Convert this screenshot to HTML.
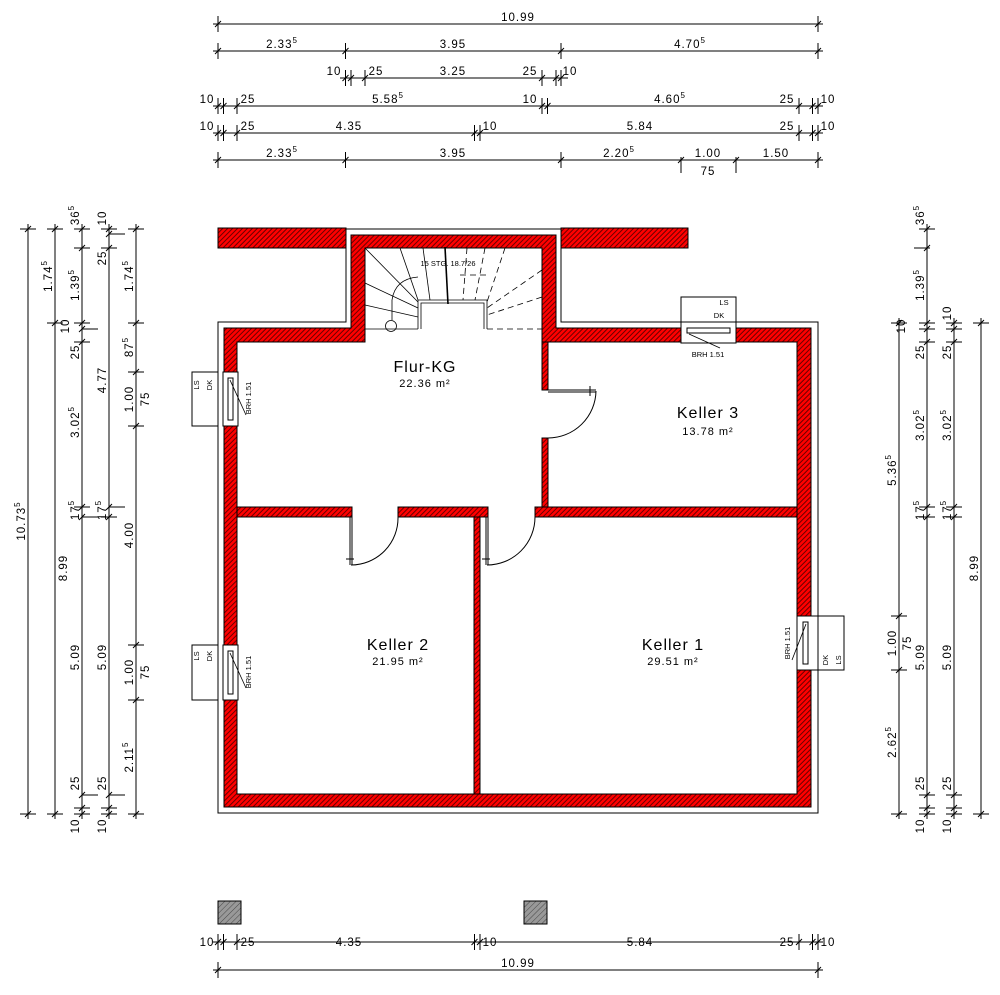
<!DOCTYPE html>
<html><head><meta charset="utf-8"><style>
html,body{margin:0;padding:0;background:#fff}
svg{display:block}
text{font-family:"Liberation Sans",sans-serif;fill:#000}
.d{font-size:11.5px;letter-spacing:1px}
.s{font-size:7.5px}
</style></head><body>
<svg width="1000" height="995" viewBox="0 0 1000 995" xmlns="http://www.w3.org/2000/svg">
<defs>
<pattern id="h" width="3.5" height="3.5" patternUnits="userSpaceOnUse" patternTransform="rotate(45)">
<rect width="3.5" height="3.5" fill="#f00"/><line x1="0.5" y1="0" x2="0.5" y2="3.5" stroke="#6a0000" stroke-width="1"/>
</pattern>
<pattern id="g" width="4" height="4" patternUnits="userSpaceOnUse" patternTransform="rotate(45)">
<rect width="4" height="4" fill="#999"/><line x1="0" y1="0" x2="0" y2="4" stroke="#333" stroke-width="0.8"/>
</pattern>
<line id="t" x1="-3" y1="3" x2="3" y2="-3" stroke="#000" stroke-width="1"/>
<line id="ev" x1="0" y1="-8" x2="0" y2="8" stroke="#000" stroke-width="1"/>
<line id="eh" x1="-8" y1="0" x2="8" y2="0" stroke="#000" stroke-width="1"/>
</defs>

<g stroke="#000" stroke-width="1" fill="none">
<path d="M218,322 H346 V229 H561 V322 H818 V813 H218 Z" fill="#fff"/>
</g>
<rect x="218" y="228" width="128" height="20" fill="url(#h)" stroke="#000"/>
<rect x="561" y="228" width="127" height="20" fill="url(#h)" stroke="#000"/>
<path d="M224,328 H351 V235 H556 V328 H811 V807 H224 Z M237,342 H365 V248 H542 V342 H797 V794 H237 Z" fill="url(#h)" fill-rule="evenodd" stroke="#000"/>
<g fill="url(#h)" stroke="#000">
<rect x="237" y="507" width="115" height="10"/>
<rect x="398" y="507" width="90" height="10"/>
<rect x="535" y="507" width="262" height="10"/>
<rect x="474" y="517" width="6" height="277"/>
<rect x="542" y="342" width="6" height="48"/>
<rect x="542" y="438" width="6" height="69"/>
</g>
<g fill="#fff" stroke="#000">
<rect x="223" y="372" width="15" height="54"/><rect x="228" y="378" width="5" height="42"/>
<rect x="223" y="645" width="15" height="55"/><rect x="228" y="651" width="5" height="43"/>
<rect x="681" y="322" width="55" height="21"/><rect x="687" y="328" width="43" height="5"/>
<rect x="797" y="616" width="21" height="54"/><rect x="803" y="622" width="5" height="42"/>
<rect x="192" y="372" width="26" height="54"/>
<rect x="192" y="645" width="26" height="55"/>
<rect x="681" y="297" width="55" height="25"/>
<rect x="818" y="616" width="26" height="54"/>
</g>
<g stroke="#000" stroke-width="0.8">
<line x1="230" y1="380" x2="246" y2="415"/><line x1="230" y1="653" x2="246" y2="688"/>
<line x1="689" y1="334" x2="720" y2="348"/><line x1="806" y1="624" x2="792" y2="660"/>
</g>
<g class="s">
<text transform="translate(251,398) rotate(-90)" text-anchor="middle">BRH 1.51</text>
<text transform="translate(251,672) rotate(-90)" text-anchor="middle">BRH 1.51</text>
<text transform="translate(790,643) rotate(-90)" text-anchor="middle">BRH 1.51</text>
<text x="708" y="357" text-anchor="middle">BRH 1.51</text>
<text transform="translate(199,385) rotate(-90)" text-anchor="middle">LS</text>
<text transform="translate(212,385) rotate(-90)" text-anchor="middle">DK</text>
<text transform="translate(199,656) rotate(-90)" text-anchor="middle">LS</text>
<text transform="translate(212,656) rotate(-90)" text-anchor="middle">DK</text>
<text transform="translate(828,660) rotate(-90)" text-anchor="middle">DK</text>
<text transform="translate(841,660) rotate(-90)" text-anchor="middle">LS</text>
<text x="724" y="305" text-anchor="middle">LS</text>
<text x="719" y="318" text-anchor="middle">DK</text>
</g>
<g stroke="#000" fill="none" stroke-width="1">
<line x1="548" y1="390" x2="596" y2="390"/><line x1="548" y1="392" x2="596" y2="392"/>
<path d="M596,391 A48,48 0 0 1 548,438"/>
<line x1="350" y1="517" x2="350" y2="565"/><line x1="352" y1="517" x2="352" y2="565"/>
<path d="M351,565 A47,47 0 0 0 398,517"/>
<line x1="486" y1="517" x2="486" y2="565"/><line x1="488" y1="517" x2="488" y2="565"/>
<path d="M487,565 A48,48 0 0 0 535,517"/>
<path d="M590,386 v10 M346,559 h8 M482,559 h8"/>
</g>
<g stroke="#000" fill="none" stroke-width="0.8">
<path d="M418,329 V300 H487 V329 M421,329 V303 H484 V329"/>
<line x1="365" y1="248" x2="418" y2="302"/>
<line x1="365" y1="283" x2="418" y2="308"/>
<line x1="365" y1="305" x2="418" y2="317"/>
<line x1="400" y1="248" x2="418" y2="300"/>
<line x1="423" y1="248" x2="430" y2="300"/>
<line x1="445" y1="247" x2="448" y2="304" stroke-width="1.6"/>
<line x1="365" y1="329" x2="418" y2="329"/>
<path d="M392,320 V300 Q395,279 418,277"/>
<circle cx="391" cy="326" r="5.5"/>
<g stroke-dasharray="6,4">
<line x1="467" y1="248" x2="463" y2="300"/>
<line x1="485" y1="248" x2="475" y2="300"/>
<line x1="505" y1="248" x2="487" y2="302"/>
<line x1="542" y1="270" x2="487" y2="308"/>
<line x1="542" y1="297" x2="487" y2="315"/>
<line x1="487" y1="329" x2="542" y2="329"/>
<line x1="460" y1="275" x2="488" y2="275"/>
</g>
</g>
<text class="s" x="448" y="266" text-anchor="middle">15 STG. 18.7/26</text>
<text x="425" y="372" text-anchor="middle" font-size="16" letter-spacing="1">Flur-KG</text>
<text x="425" y="387" text-anchor="middle" font-size="11" letter-spacing="1">22.36 m²</text>
<text x="708" y="418" text-anchor="middle" font-size="16" letter-spacing="1">Keller 3</text>
<text x="708" y="435" text-anchor="middle" font-size="11" letter-spacing="1">13.78 m²</text>
<text x="398" y="650" text-anchor="middle" font-size="16" letter-spacing="1">Keller 2</text>
<text x="398" y="665" text-anchor="middle" font-size="11" letter-spacing="1">21.95 m²</text>
<text x="673" y="650" text-anchor="middle" font-size="16" letter-spacing="1">Keller 1</text>
<text x="673" y="665" text-anchor="middle" font-size="11" letter-spacing="1">29.51 m²</text>
<rect x="218" y="901" width="23" height="23" fill="url(#g)" stroke="#000"/>
<rect x="524" y="901" width="23" height="23" fill="url(#g)" stroke="#000"/>

<g stroke="#000" stroke-width="1">
<line x1="213" y1="24" x2="823" y2="24"/>
<line x1="213" y1="51" x2="823" y2="51"/>
<line x1="340" y1="78" x2="568" y2="78"/>
<line x1="213" y1="106" x2="823" y2="106"/>
<line x1="213" y1="133" x2="823" y2="133"/>
<line x1="213" y1="160" x2="823" y2="160"/>
<line x1="213" y1="942" x2="823" y2="942"/>
<line x1="213" y1="970" x2="823" y2="970"/>
</g>
<g>
<use href="#ev" x="218" y="24"/><use href="#ev" x="818" y="24"/><use href="#t" x="218" y="24"/><use href="#t" x="818" y="24"/>
<use href="#ev" x="218" y="51"/><use href="#ev" x="345.5" y="51"/><use href="#ev" x="561" y="51"/><use href="#ev" x="818" y="51"/>
<use href="#t" x="218" y="51"/><use href="#t" x="345.5" y="51"/><use href="#t" x="561" y="51"/><use href="#t" x="818" y="51"/>
<use href="#ev" x="345.5" y="78"/><use href="#ev" x="351" y="78"/><use href="#ev" x="365" y="78"/><use href="#ev" x="542" y="78"/><use href="#ev" x="556" y="78"/><use href="#ev" x="561" y="78"/>
<use href="#t" x="345.5" y="78"/><use href="#t" x="351" y="78"/><use href="#t" x="365" y="78"/><use href="#t" x="542" y="78"/><use href="#t" x="556" y="78"/><use href="#t" x="561" y="78"/>
<use href="#ev" x="218" y="106"/><use href="#ev" x="223.5" y="106"/><use href="#ev" x="237" y="106"/><use href="#ev" x="542" y="106"/><use href="#ev" x="547.5" y="106"/><use href="#ev" x="799" y="106"/><use href="#ev" x="812.5" y="106"/><use href="#ev" x="818" y="106"/>
<use href="#t" x="218" y="106"/><use href="#t" x="223.5" y="106"/><use href="#t" x="237" y="106"/><use href="#t" x="542" y="106"/><use href="#t" x="547.5" y="106"/><use href="#t" x="799" y="106"/><use href="#t" x="812.5" y="106"/><use href="#t" x="818" y="106"/>
<use href="#ev" x="218" y="133"/><use href="#ev" x="223.5" y="133"/><use href="#ev" x="237" y="133"/><use href="#ev" x="474.5" y="133"/><use href="#ev" x="480" y="133"/><use href="#ev" x="799" y="133"/><use href="#ev" x="812.5" y="133"/><use href="#ev" x="818" y="133"/>
<use href="#t" x="218" y="133"/><use href="#t" x="223.5" y="133"/><use href="#t" x="237" y="133"/><use href="#t" x="474.5" y="133"/><use href="#t" x="480" y="133"/><use href="#t" x="799" y="133"/><use href="#t" x="812.5" y="133"/><use href="#t" x="818" y="133"/>
<use href="#ev" x="218" y="160"/><use href="#ev" x="345.5" y="160"/><use href="#ev" x="561" y="160"/><use href="#ev" x="681" y="165"/><use href="#ev" x="736" y="165"/><use href="#ev" x="818" y="160"/>
<use href="#t" x="218" y="160"/><use href="#t" x="345.5" y="160"/><use href="#t" x="561" y="160"/><use href="#t" x="681" y="160"/><use href="#t" x="736" y="160"/><use href="#t" x="818" y="160"/>
<use href="#ev" x="218" y="942"/><use href="#ev" x="223.5" y="942"/><use href="#ev" x="237" y="942"/><use href="#ev" x="474.5" y="942"/><use href="#ev" x="480" y="942"/><use href="#ev" x="799" y="942"/><use href="#ev" x="812.5" y="942"/><use href="#ev" x="818" y="942"/>
<use href="#t" x="218" y="942"/><use href="#t" x="223.5" y="942"/><use href="#t" x="237" y="942"/><use href="#t" x="474.5" y="942"/><use href="#t" x="480" y="942"/><use href="#t" x="799" y="942"/><use href="#t" x="812.5" y="942"/><use href="#t" x="818" y="942"/>
<use href="#ev" x="218" y="970"/><use href="#ev" x="818" y="970"/><use href="#t" x="218" y="970"/><use href="#t" x="818" y="970"/>
</g>
<g class="d" text-anchor="middle">
<text x="518" y="21">10.99</text>
<text x="282" y="48">2.33<tspan dy="-5" font-size="8">5</tspan></text>
<text x="453" y="48">3.95</text>
<text x="690" y="48">4.70<tspan dy="-5" font-size="8">5</tspan></text>
<text x="334" y="75">10</text><text x="376" y="75">25</text><text x="453" y="75">3.25</text><text x="530" y="75">25</text><text x="570" y="75">10</text>
<text x="207" y="103">10</text><text x="248" y="103">25</text><text x="388" y="103">5.58<tspan dy="-5" font-size="8">5</tspan></text><text x="530" y="103">10</text><text x="670" y="103">4.60<tspan dy="-5" font-size="8">5</tspan></text><text x="787" y="103">25</text><text x="828" y="103">10</text>
<text x="207" y="130">10</text><text x="248" y="130">25</text><text x="349" y="130">4.35</text><text x="490" y="130">10</text><text x="640" y="130">5.84</text><text x="787" y="130">25</text><text x="828" y="130">10</text>
<text x="282" y="157">2.33<tspan dy="-5" font-size="8">5</tspan></text><text x="453" y="157">3.95</text><text x="619" y="157">2.20<tspan dy="-5" font-size="8">5</tspan></text><text x="708" y="157">1.00</text><text x="776" y="157">1.50</text>
<text x="708" y="175">75</text>
<text x="207" y="946">10</text><text x="248" y="946">25</text><text x="349" y="946">4.35</text><text x="490" y="946">10</text><text x="640" y="946">5.84</text><text x="787" y="946">25</text><text x="828" y="946">10</text>
<text x="518" y="967">10.99</text>
</g>

<g stroke="#000" stroke-width="1">
<line x1="28" y1="224" x2="28" y2="819"/>
<line x1="55" y1="224" x2="55" y2="819"/>
<line x1="82" y1="224" x2="82" y2="819"/>
<line x1="109" y1="224" x2="109" y2="819"/>
<line x1="136" y1="224" x2="136" y2="819"/>
<line x1="899" y1="318" x2="899" y2="819"/>
<line x1="927" y1="224" x2="927" y2="819"/>
<line x1="954" y1="318" x2="954" y2="819"/>
<line x1="981" y1="318" x2="981" y2="819"/>
</g>
<g>
<use href="#eh" x="28" y="229"/><use href="#eh" x="28" y="814"/><use href="#t" x="28" y="229"/><use href="#t" x="28" y="814"/>
<use href="#eh" x="55" y="229"/><use href="#eh" x="55" y="323"/><use href="#eh" x="55" y="814"/><use href="#t" x="55" y="229"/><use href="#t" x="55" y="323"/><use href="#t" x="55" y="814"/>
<use href="#eh" x="82" y="229"/><use href="#eh" x="82" y="248"/><use href="#eh" x="82" y="323"/><use href="#eh" x="90" y="329"/><use href="#eh" x="82" y="342"/><use href="#eh" x="82" y="507"/><use href="#eh" x="90" y="517"/><use href="#eh" x="90" y="795"/><use href="#eh" x="82" y="808"/><use href="#eh" x="82" y="814"/>
<use href="#t" x="82" y="229"/><use href="#t" x="82" y="248"/><use href="#t" x="82" y="323"/><use href="#t" x="82" y="329"/><use href="#t" x="82" y="342"/><use href="#t" x="82" y="507"/><use href="#t" x="82" y="517"/><use href="#t" x="82" y="795"/><use href="#t" x="82" y="808"/><use href="#t" x="82" y="814"/>
<use href="#eh" x="109" y="229"/><use href="#eh" x="117" y="234"/><use href="#eh" x="109" y="248"/><use href="#eh" x="117" y="507"/><use href="#eh" x="109" y="517"/><use href="#eh" x="117" y="795"/><use href="#eh" x="109" y="808"/><use href="#eh" x="109" y="814"/>
<use href="#t" x="109" y="229"/><use href="#t" x="109" y="234"/><use href="#t" x="109" y="248"/><use href="#t" x="109" y="507"/><use href="#t" x="109" y="517"/><use href="#t" x="109" y="795"/><use href="#t" x="109" y="808"/><use href="#t" x="109" y="814"/>
<use href="#eh" x="136" y="229"/><use href="#eh" x="136" y="323"/><use href="#eh" x="136" y="372"/><use href="#eh" x="136" y="426"/><use href="#eh" x="136" y="645"/><use href="#eh" x="136" y="700"/><use href="#eh" x="136" y="814"/>
<use href="#t" x="136" y="229"/><use href="#t" x="136" y="323"/><use href="#t" x="136" y="372"/><use href="#t" x="136" y="426"/><use href="#t" x="136" y="645"/><use href="#t" x="136" y="700"/><use href="#t" x="136" y="814"/>
<use href="#eh" x="899" y="323"/><use href="#eh" x="899" y="616"/><use href="#eh" x="899" y="670"/><use href="#eh" x="899" y="814"/>
<use href="#t" x="899" y="323"/><use href="#t" x="899" y="616"/><use href="#t" x="899" y="670"/><use href="#t" x="899" y="814"/>
<use href="#eh" x="927" y="229"/><use href="#eh" x="922" y="248"/><use href="#eh" x="927" y="323"/><use href="#eh" x="927" y="329"/><use href="#eh" x="927" y="342"/><use href="#eh" x="927" y="507"/><use href="#eh" x="927" y="517"/><use href="#eh" x="927" y="795"/><use href="#eh" x="927" y="808"/><use href="#eh" x="927" y="814"/>
<use href="#t" x="927" y="229"/><use href="#t" x="927" y="248"/><use href="#t" x="927" y="323"/><use href="#t" x="927" y="329"/><use href="#t" x="927" y="342"/><use href="#t" x="927" y="507"/><use href="#t" x="927" y="517"/><use href="#t" x="927" y="795"/><use href="#t" x="927" y="808"/><use href="#t" x="927" y="814"/>
<use href="#eh" x="954" y="323"/><use href="#eh" x="954" y="329"/><use href="#eh" x="954" y="342"/><use href="#eh" x="954" y="507"/><use href="#eh" x="954" y="517"/><use href="#eh" x="954" y="795"/><use href="#eh" x="954" y="808"/><use href="#eh" x="954" y="814"/>
<use href="#t" x="954" y="323"/><use href="#t" x="954" y="329"/><use href="#t" x="954" y="342"/><use href="#t" x="954" y="507"/><use href="#t" x="954" y="517"/><use href="#t" x="954" y="795"/><use href="#t" x="954" y="808"/><use href="#t" x="954" y="814"/>
<use href="#eh" x="981" y="323"/><use href="#eh" x="981" y="814"/><use href="#t" x="981" y="323"/><use href="#t" x="981" y="814"/>
</g>
<g class="d" text-anchor="middle">
<text transform="translate(25,521) rotate(-90)">10.73<tspan dy="-5" font-size="8">5</tspan></text>
<text transform="translate(52,276) rotate(-90)">1.74<tspan dy="-5" font-size="8">5</tspan></text>
<text transform="translate(67,568) rotate(-90)">8.99</text>
<text transform="translate(79,215) rotate(-90)">36<tspan dy="-5" font-size="8">5</tspan></text>
<text transform="translate(79,285) rotate(-90)">1.39<tspan dy="-5" font-size="8">5</tspan></text>
<text transform="translate(69,326) rotate(-90)">10</text>
<text transform="translate(79,352) rotate(-90)">25</text>
<text transform="translate(79,422) rotate(-90)">3.02<tspan dy="-5" font-size="8">5</tspan></text>
<text transform="translate(79,510) rotate(-90)">17<tspan dy="-5" font-size="8">5</tspan></text>
<text transform="translate(79,657) rotate(-90)">5.09</text>
<text transform="translate(79,783) rotate(-90)">25</text>
<text transform="translate(79,826) rotate(-90)">10</text>
<text transform="translate(106,218) rotate(-90)">10</text>
<text transform="translate(106,258) rotate(-90)">25</text>
<text transform="translate(106,380) rotate(-90)">4.77</text>
<text transform="translate(106,510) rotate(-90)">17<tspan dy="-5" font-size="8">5</tspan></text>
<text transform="translate(106,657) rotate(-90)">5.09</text>
<text transform="translate(106,783) rotate(-90)">25</text>
<text transform="translate(106,826) rotate(-90)">10</text>
<text transform="translate(133,276) rotate(-90)">1.74<tspan dy="-5" font-size="8">5</tspan></text>
<text transform="translate(133,347) rotate(-90)">87<tspan dy="-5" font-size="8">5</tspan></text>
<text transform="translate(133,399) rotate(-90)">1.00</text>
<text transform="translate(149,399) rotate(-90)">75</text>
<text transform="translate(133,535) rotate(-90)">4.00</text>
<text transform="translate(133,672) rotate(-90)">1.00</text>
<text transform="translate(149,672) rotate(-90)">75</text>
<text transform="translate(133,757) rotate(-90)">2.11<tspan dy="-5" font-size="8">5</tspan></text>
<text transform="translate(896,470) rotate(-90)">5.36<tspan dy="-5" font-size="8">5</tspan></text>
<text transform="translate(896,643) rotate(-90)">1.00</text>
<text transform="translate(911,643) rotate(-90)">75</text>
<text transform="translate(896,742) rotate(-90)">2.62<tspan dy="-5" font-size="8">5</tspan></text>
<text transform="translate(924,215) rotate(-90)">36<tspan dy="-5" font-size="8">5</tspan></text>
<text transform="translate(924,285) rotate(-90)">1.39<tspan dy="-5" font-size="8">5</tspan></text>
<text transform="translate(905,326) rotate(-90)">10</text>
<text transform="translate(924,352) rotate(-90)">25</text>
<text transform="translate(924,425) rotate(-90)">3.02<tspan dy="-5" font-size="8">5</tspan></text>
<text transform="translate(924,510) rotate(-90)">17<tspan dy="-5" font-size="8">5</tspan></text>
<text transform="translate(924,657) rotate(-90)">5.09</text>
<text transform="translate(924,783) rotate(-90)">25</text>
<text transform="translate(924,826) rotate(-90)">10</text>
<text transform="translate(951,313) rotate(-90)">10</text>
<text transform="translate(951,352) rotate(-90)">25</text>
<text transform="translate(951,425) rotate(-90)">3.02<tspan dy="-5" font-size="8">5</tspan></text>
<text transform="translate(951,510) rotate(-90)">17<tspan dy="-5" font-size="8">5</tspan></text>
<text transform="translate(951,657) rotate(-90)">5.09</text>
<text transform="translate(951,783) rotate(-90)">25</text>
<text transform="translate(951,826) rotate(-90)">10</text>
<text transform="translate(978,568) rotate(-90)">8.99</text>
</g>
</svg>
</body></html>
